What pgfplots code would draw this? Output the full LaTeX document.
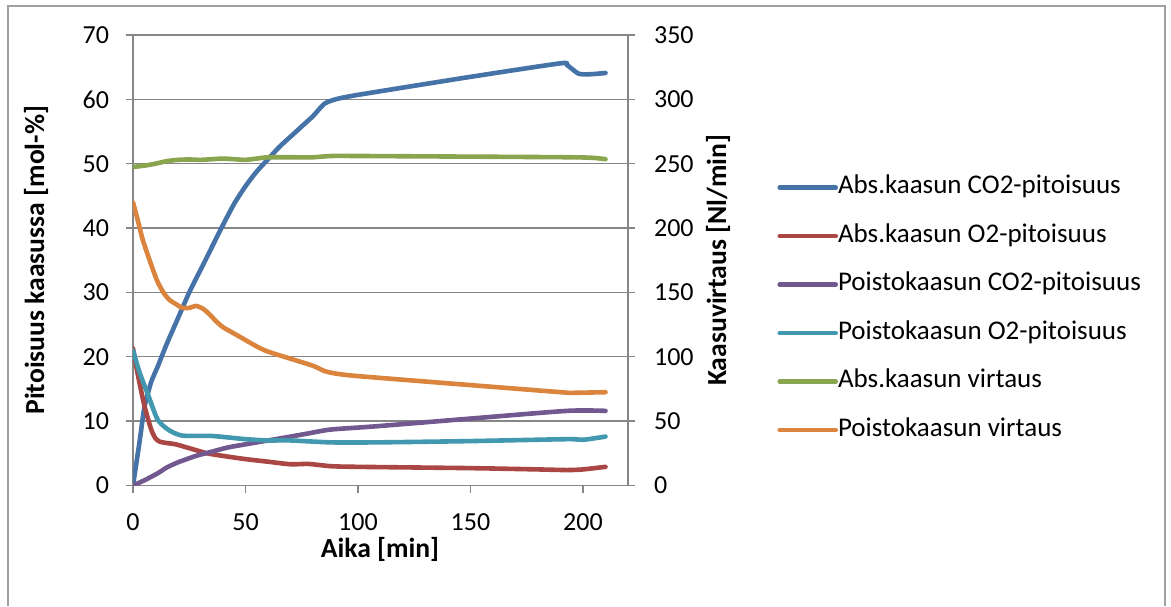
\documentclass[border=0pt]{standalone}
\usepackage{pgfplots}
\pgfplotsset{compat=1.18}
\usepackage{fontspec}
\setmainfont{Carlito}
\definecolor{cblue}{HTML}{4572A7}
\definecolor{cred}{HTML}{AA4643}
\definecolor{cpurple}{HTML}{71588F}
\definecolor{cteal}{HTML}{4198AF}
\definecolor{cgreen}{HTML}{89A54E}
\definecolor{corange}{HTML}{DB843D}
\definecolor{gridgray}{HTML}{868686}
\definecolor{bordergray}{HTML}{A0A0A0}
\newcommand{\fs}{\fontsize{13}{15}\selectfont}
\newcommand{\fl}{\fontsize{13.5}{15}\selectfont}
\newcommand{\fb}{\fontsize{13.8}{16}\selectfont\bfseries}
\begin{document}
\begin{tikzpicture}
\path[use as bounding box] (0,0) rectangle (585.5pt,303pt);
\draw[bordergray, line width=0.6pt] (4pt,0) -- (4pt,300pt) -- (582.5pt,300pt) -- (582.5pt,0);
\pgfplotsset{every axis/.append style={
  scale only axis, width=247.5pt, height=225.25pt,
  at={(66.5pt,60.25pt)}, anchor=south west,
  xmin=0, xmax=220,
  tick align=outside, major tick length=3.5pt,
  tick style={draw=gridgray, line width=0.7pt},
  axis line style={-, draw=gridgray, line width=0.7pt},
  tick label style={font=\fs},
  label style={font=\fb},
  /pgf/number format/assume math mode=true,
  every axis plot/.append style={line width=2.3pt, line cap=round, line join=round, smooth, tension=0.4},
}}
\begin{axis}[
  axis x line*=bottom, axis y line*=left,
  ymin=0, ymax=70,
  xtick={0,50,...,200}, ytick={0,10,...,70},
  yticklabel style={xshift=-5pt},
  xticklabel style={yshift=-7pt},
  ymajorgrids, grid style={gridgray, line width=0.7pt},
  xlabel={Aika [min]}, ylabel={Pitoisuus kaasussa [mol-\%]},
  xlabel style={at={(axis description cs:0.499,-0.143)}, anchor=center},
  ylabel style={at={(axis description cs:-0.196,0.5)}, anchor=center, rotate=0},
]
\addplot[cblue] coordinates {(0,0)(3,7)(5,12)(8,16)(11,18.5)(15,22)(20,26)(25,30)(30,33.5)(35,37)(40,40.5)(45,43.8)(50,46.5)(55,48.8)(60,50.7)(65,52.6)(70,54.2)(75,55.8)(80,57.4)(85,59.3)(90,60)(100,60.7)(150,63.5)(190,65.6)(193,65.3)(198,64)(203,63.9)(210,64.1)};
\addplot[cred] coordinates {(0,21.3)(2,17.5)(5,12.5)(8,8.8)(10,7.3)(12,6.8)(15,6.6)(19,6.4)(25,5.8)(33,5.0)(40,4.6)(50,4.1)(60,3.7)(70,3.3)(78,3.35)(88,3.0)(100,2.9)(150,2.7)(180,2.5)(193,2.4)(200,2.5)(210,2.9)};
\addplot[cpurple] coordinates {(0,0)(5,0.8)(11,1.9)(15,2.8)(20,3.6)(28,4.6)(35,5.25)(42,5.9)(50,6.4)(60,7.0)(70,7.6)(78,8.1)(88,8.7)(108,9.2)(150,10.4)(193,11.6)(210,11.6)};
\addplot[cteal] coordinates {(0,21)(3,17.5)(7,13.8)(11,10.2)(16,8.6)(22,7.75)(35,7.7)(50,7.2)(60,7.0)(70,7.0)(88,6.7)(108,6.7)(150,6.9)(193,7.2)(200,7.1)(210,7.6)};
\end{axis}
\begin{axis}[
  axis x line=none, axis y line*=right,
  ymin=0, ymax=350, ytick={0,50,...,350},
  yticklabel style={xshift=6pt},
  ylabel={Kaasuvirtaus [Nl/min]},
  ylabel style={at={(axis description cs:1.182,0.5)}, anchor=center, rotate=0},
  legend cell align=left,
  legend style={at={(axis description cs:1.301,0.392)}, anchor=west, draw=none, fill=none,
    font=\fl, row sep=12.25pt, inner sep=0pt,
    nodes={inner sep=0pt, text height=9pt, text depth=3pt}},
  legend image code/.code={\draw[#1, line width=2.3pt, line cap=round] (0pt,0pt) -- (28pt,0pt);},
]
\addlegendimage{cblue}\addlegendentry{Abs.kaasun CO2-pitoisuus}
\addlegendimage{cred}\addlegendentry{Abs.kaasun O2-pitoisuus}
\addlegendimage{cpurple}\addlegendentry{Poistokaasun CO2-pitoisuus}
\addlegendimage{cteal}\addlegendentry{Poistokaasun O2-pitoisuus}
\addplot[cgreen] coordinates {(0,247.5)(5,248.5)(10,250)(15,252)(20,253)(25,253.3)(30,253)(35,253.5)(40,254)(45,253.5)(50,253)(55,254)(60,255)(70,255)(80,255)(88,256)(100,256)(150,255.5)(195,255)(205,254.5)(210,253.5)};
\addlegendentry{Abs.kaasun virtaus}
\addplot[corange] coordinates {(0,220)(2,207)(4,193)(6,182)(9,167)(11,158)(13.5,150)(16,144.5)(19,141)(22,138)(25,138)(28,139.5)(31,137.5)(34,133)(37,127.5)(40,123)(45,118)(50,113)(55,108)(60,104)(70,98.5)(80,93)(85,89)(90,87)(100,85)(150,78)(190,72.5)(195,72)(210,72.5)};
\addlegendentry{Poistokaasun virtaus}
\end{axis}
\end{tikzpicture}
\end{document}
